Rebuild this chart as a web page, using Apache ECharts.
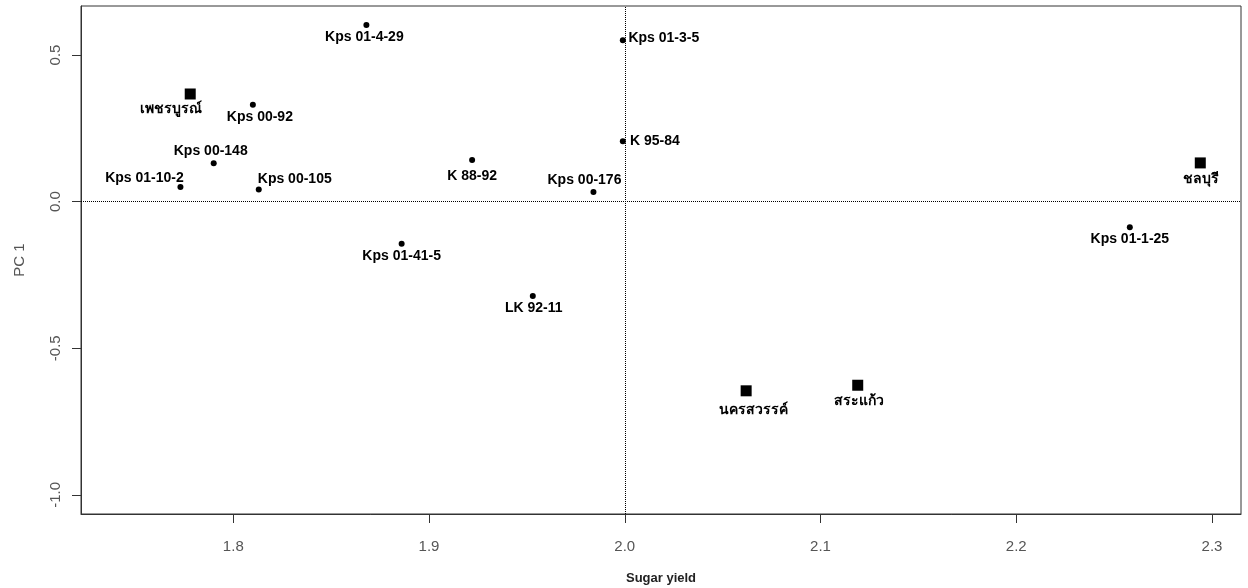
<!DOCTYPE html>
<html lang="th">
<head>
    <meta charset="UTF-8">
    <title>Sugar yield vs PC 1</title>
    <script src="https://cdn.jsdelivr.net/npm/echarts@6/dist/echarts.min.js"></script>
</head>
<body style="margin:0;background:#fff;">
<div id="main" style="width:1248px;height:588px;"></div>

<script>
    // varieties (dots)
    const varNames = ['Kps 01-4-29', 'Kps 01-3-5', 'Kps 00-92', 'Kps 00-148', 'Kps 01-10-2', 'Kps 00-105',
        'K 88-92', 'K 95-84', 'Kps 00-176', 'Kps 01-1-25', 'Kps 01-41-5', 'LK 92-11'];
    const varX = [1.868, 1.999, 1.810, 1.790, 1.773, 1.813, 1.922, 1.999, 1.984, 2.258, 1.886, 1.953];
    const varY = [0.602, 0.550, 0.330, 0.131, 0.050, 0.041, 0.142, 0.206, 0.033, -0.087, -0.144, -0.322];

    // provinces (squares)
    const provNames = ['เพชรบูรณ์', 'ชลบุรี', 'นครสวรรค์', 'สระแก้ว'];
    const provX = [1.778, 2.294, 2.062, 2.119];
    const provY = [0.367, 0.132, -0.645, -0.626];

    const xTicks = [1.8, 1.9, 2.0, 2.1, 2.2, 2.3];
    const yTicks = [-1.0, -0.5, 0.0, 0.5];

    // where each label sits relative to its mark (px)
    const varOffset = [[-2, 12], [41, -2], [7, 12], [-3, -12], [-36, -9], [36, -10],
        [0, 16], [32, 0], [-9, -12], [0, 12], [0, 12], [1, 12]];
    const provOffset = [[-19, 15], [1, 16], [7, 19], [1, 16]];

    const labelFont = 'Arial, "Liberation Sans", sans-serif';

    function build(names, xs, ys, offs) {
        return names.map(function (n, i) {
            return {
                name: n,
                value: [xs[i], ys[i]],
                label: {offset: offs[i]}
            };
        });
    }

    const chart = echarts.init(document.getElementById('main'));
    chart.setOption({
        animation: false,
        grid: {left: 81, right: 7, top: 6, bottom: 74, show: true, borderColor: '#333', borderWidth: 1,
            containLabel: false, outerBoundsMode: 'none'},
        xAxis: {
            type: 'value', min: 1.7222, max: 2.3148,
            name: 'Sugar yield', nameLocation: 'middle', nameGap: 58,
            nameTextStyle: {fontFamily: labelFont, fontWeight: 'bold', fontSize: 13, color: '#222'},
            splitLine: {show: false},
            axisLine: {show: true, onZero: false, lineStyle: {color: '#333'}},
            axisTick: {show: true, length: 9, lineStyle: {color: '#333'}, customValues: xTicks},
            axisLabel: {customValues: xTicks, margin: 25, fontFamily: labelFont, fontSize: 15, color: '#555',
                formatter: function (v) { return v.toFixed(1); }}
        },
        yAxis: {
            type: 'value', min: -1.065, max: 0.667,
            name: 'PC 1', nameLocation: 'middle', nameGap: 54,
            nameTextStyle: {fontFamily: labelFont, fontSize: 15, color: '#555'},
            splitLine: {show: false},
            axisLine: {show: true, onZero: false, lineStyle: {color: '#333'}},
            axisTick: {show: true, length: 9, lineStyle: {color: '#333'}, customValues: yTicks},
            axisLabel: {customValues: yTicks, rotate: 90, margin: 18, fontFamily: labelFont, fontSize: 15, color: '#555',
                formatter: function (v) { return v.toFixed(1); }}
        },
        series: [
            {
                type: 'scatter',
                symbol: 'circle',
                symbolSize: 6,
                itemStyle: {color: '#000', opacity: 1},
                label: {show: true, position: 'inside', formatter: '{b}',
                    fontFamily: labelFont, fontWeight: 'bold', fontSize: 14, color: '#000'},
                data: build(varNames, varX, varY, varOffset),
                markLine: {
                    silent: true, symbol: 'none',
                    label: {show: false},
                    lineStyle: {type: 'dotted', color: '#000', width: 1, opacity: 1},
                    data: [{xAxis: 2.0}, {yAxis: 0}]
                }
            },
            {
                type: 'scatter',
                symbol: 'rect',
                symbolSize: 11,
                itemStyle: {color: '#000', opacity: 1},
                label: {show: true, position: 'inside', formatter: '{b}',
                    fontFamily: labelFont, fontWeight: 'bold', fontSize: 14, color: '#000'},
                data: build(provNames, provX, provY, provOffset)
            }
        ]
    });
</script>
</body>
</html>
